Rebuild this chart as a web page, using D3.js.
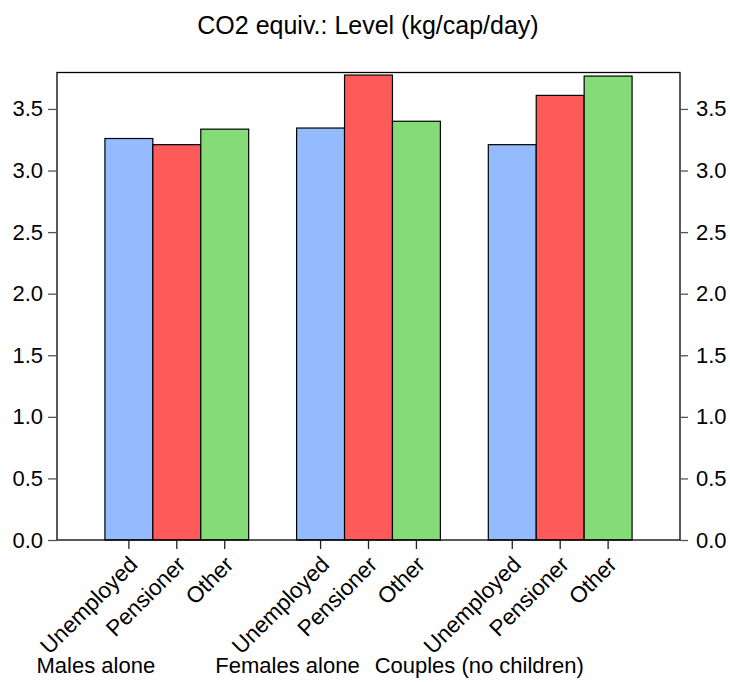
<!DOCTYPE html>
<html>
<head>
<meta charset="utf-8">
<script src="https://cdn.jsdelivr.net/npm/d3@7"></script>
<style>
  html, body { margin: 0; padding: 0; background: #fff; }
  svg { display: block; font-family: "Liberation Sans", Arial, Helvetica, sans-serif; }
</style>
</head>
<body>
<svg id="chart" width="730" height="682"></svg>
<script>
// Household groups and status series
const groups = ["Males alone", "Females alone", "Couples (no children)"];
const series = ["Unemployed", "Pensioner", "Other"];
const seriesColors = ["#94BBFF", "#FF5A5A", "#85DB78"];

// CO2 equivalent level, kg per capita per day, one array per series
const unemployed = [3.26, 3.345, 3.21];
const pensioner  = [3.21, 3.775, 3.61];
const other      = [3.336, 3.40, 3.767];

const yTicks = [0.0, 0.5, 1.0, 1.5, 2.0, 2.5, 3.0, 3.5];
const title = "CO2 equiv.: Level (kg/cap/day)";

const values = [unemployed, pensioner, other];
const rows = [];
groups.forEach((g, gi) => series.forEach((s, si) => rows.push({ group: g, series: s, si, value: values[si][gi] })));

const svg = d3.select("#chart");
const plot = { left: 57, right: 680, top: 72, bottom: 540 };

const x0 = d3.scaleBand().domain(groups).range([plot.left, plot.right])
  .paddingInner(0.25).paddingOuter(0.25);
const x1 = d3.scaleBand().domain(series).range([0, x0.bandwidth()]).padding(0);
const y = d3.scaleLinear().domain([0, 3.8]).range([plot.bottom, plot.top]);

// Title
svg.append("text")
  .attr("x", 368).attr("y", 34)
  .attr("text-anchor", "middle")
  .attr("font-size", 25)
  .attr("fill", "#000")
  .text(title);

// Bars
svg.append("g").selectAll("rect").data(rows).join("rect")
  .attr("x", d => x0(d.group) + x1(d.series))
  .attr("y", d => y(d.value))
  .attr("width", x1.bandwidth())
  .attr("height", d => y(0) - y(d.value))
  .attr("fill", d => seriesColors[d.si])
  .attr("stroke", "#000")
  .attr("stroke-width", 1.2);

// Plot frame
svg.append("rect")
  .attr("x", plot.left).attr("y", plot.top + 0.5)
  .attr("width", plot.right - plot.left)
  .attr("height", plot.bottom - plot.top - 0.5)
  .attr("fill", "none").attr("stroke", "#000").attr("stroke-width", 1.3);

// Left and right value axes
const fmt = d3.format(".1f");
function styleAxis(g) {
  g.select(".domain").remove();
  g.selectAll(".tick line").attr("stroke", "#555").attr("stroke-width", 1.3);
  g.selectAll(".tick text").attr("font-size", 22).attr("fill", "#000")
    .attr("font-family", "\"Liberation Sans\", Arial, sans-serif");
}
svg.append("g").attr("transform", `translate(${plot.left},0)`)
  .call(d3.axisLeft(y).tickValues(yTicks).tickFormat(fmt).tickSize(9).tickPadding(5))
  .call(styleAxis);
svg.append("g").attr("transform", `translate(${plot.right},0)`)
  .call(d3.axisRight(y).tickValues(yTicks).tickFormat(fmt).tickSize(8).tickPadding(8))
  .call(styleAxis);

// Category ticks under each bar with rotated series names
const xg = svg.append("g");
rows.forEach(d => {
  const cx = x0(d.group) + x1(d.series) + x1.bandwidth() / 2;
  xg.append("line")
    .attr("x1", cx).attr("x2", cx)
    .attr("y1", plot.bottom).attr("y2", plot.bottom + 9)
    .attr("stroke", "#222").attr("stroke-width", 1.3);
  xg.append("text")
    .attr("transform", `translate(${cx + 10},${plot.bottom + 26}) rotate(-45)`)
    .attr("text-anchor", "end")
    .attr("font-size", 22.5)
    .attr("fill", "#000")
    .text(d.series);
});

// Group names along the bottom
svg.append("g").selectAll("text").data(groups).join("text")
  .attr("x", g => x0(g) + x0.bandwidth() / 2 - 81)
  .attr("y", 673)
  .attr("text-anchor", "middle")
  .attr("font-size", 22)
  .attr("fill", "#000")
  .text(g => g);
</script>
</body>
</html>
